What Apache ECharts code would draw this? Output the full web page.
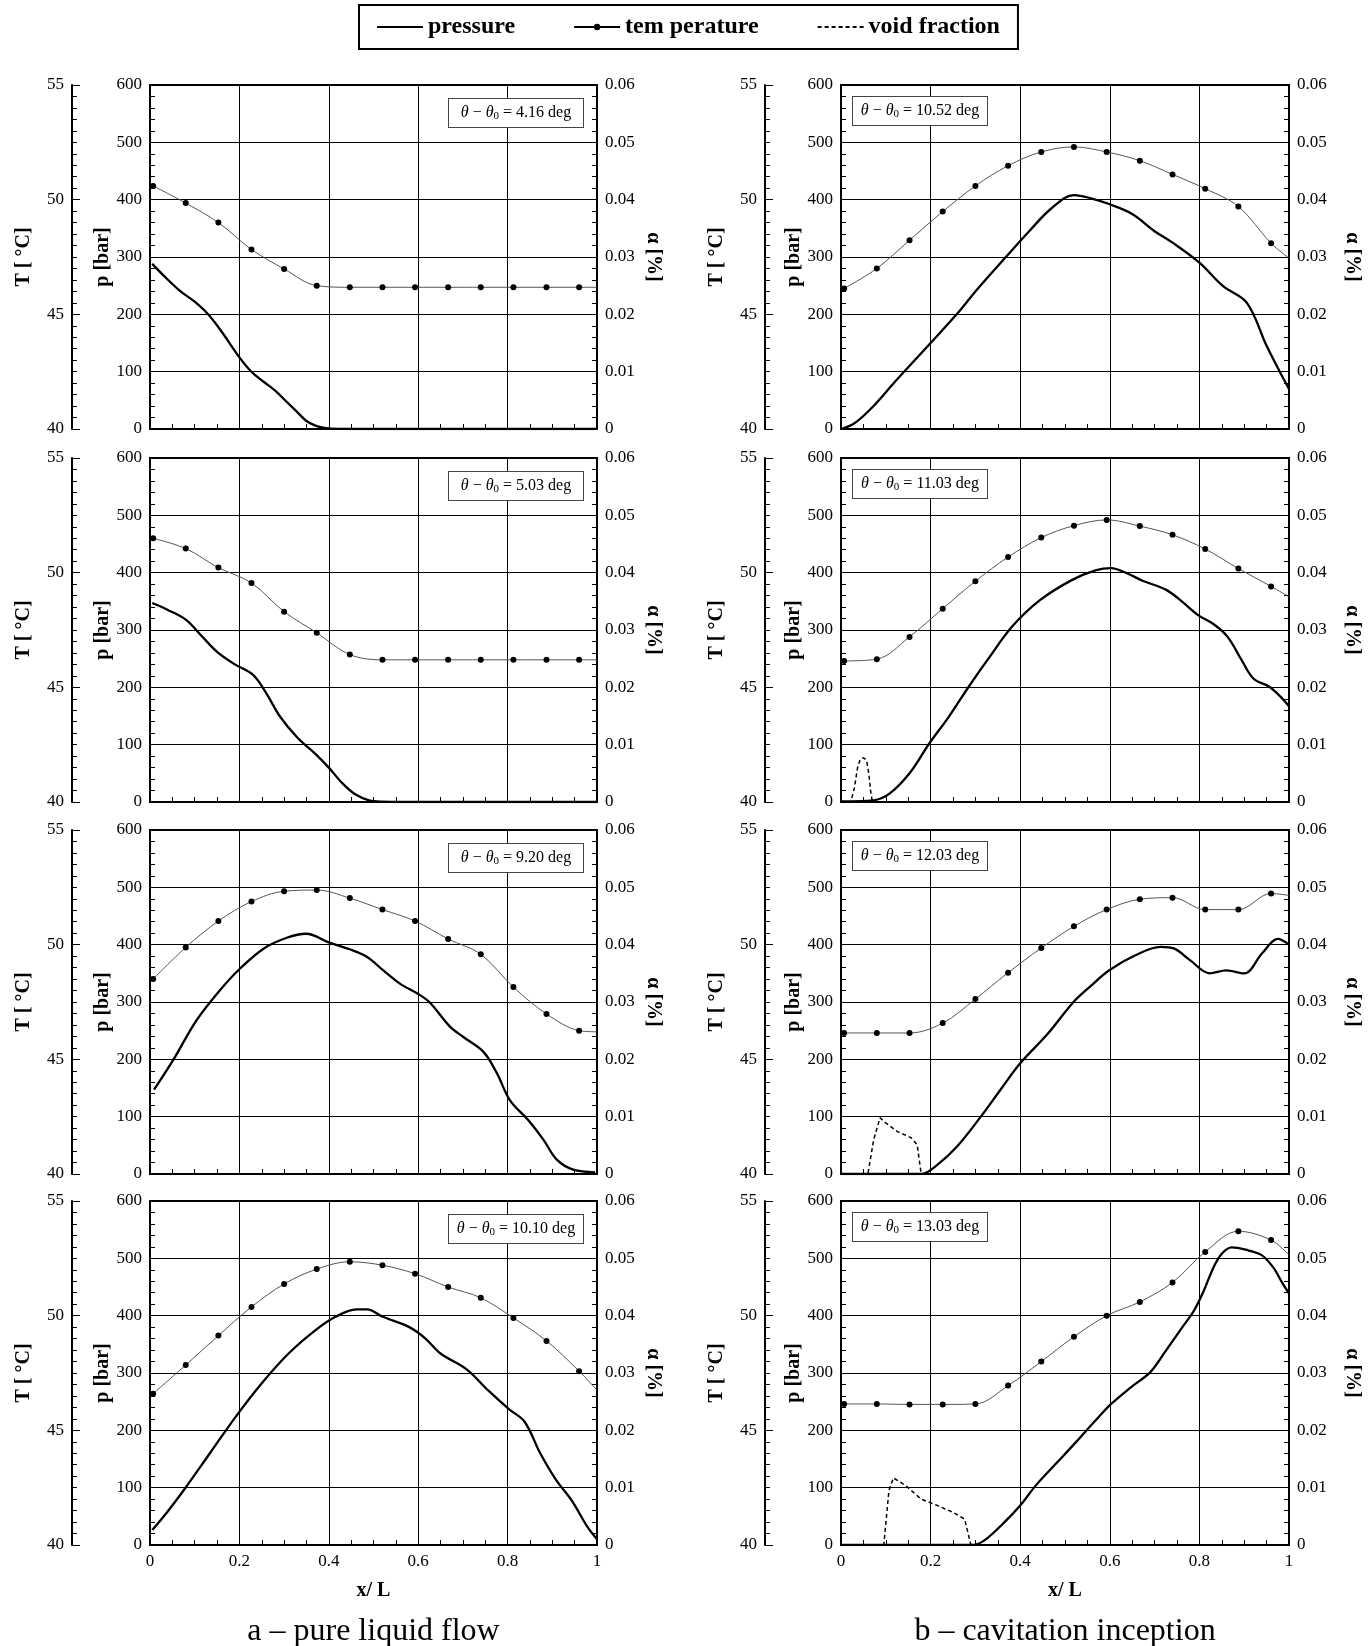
<!DOCTYPE html>
<html><head><meta charset="utf-8">
<script src="https://cdn.jsdelivr.net/npm/echarts@6/dist/echarts.min.js"></script>
<style>html,body{margin:0;padding:0;background:#fff}#c{width:1371px;height:1646px}</style>
</head><body><div id="c"></div>
<script>
// ---------------- DATA ----------------
const angles = ['4.16', '5.03', '9.20', '10.10', '10.52', '11.03', '12.03', '13.03'];
const captions = ['a \u2013 pure liquid flow', 'b \u2013 cavitation inception'];
// x/L positions of temperature markers
const tempX = [0.007, 0.080, 0.153, 0.227, 0.300, 0.373, 0.447, 0.520, 0.593, 0.667, 0.740, 0.813, 0.887, 0.960];
// temperature [°C] at tempX, last value at x/L = 1
const tempA1 = [50.6, 49.85, 49.0, 47.83, 46.98, 46.25, 46.18, 46.18, 46.18, 46.18, 46.18, 46.18, 46.18, 46.18, 46.18];
const tempA2 = [51.5, 51.05, 50.22, 49.55, 48.3, 47.38, 46.43, 46.2, 46.2, 46.2, 46.2, 46.2, 46.2, 46.2, 46.2];
const tempA3 = [48.5, 49.88, 51.03, 51.88, 52.33, 52.38, 52.03, 51.53, 51.03, 50.25, 49.58, 48.15, 46.98, 46.25, 46.2];
const tempA4 = [46.6, 47.85, 49.13, 50.38, 51.38, 52.03, 52.35, 52.2, 51.83, 51.25, 50.78, 49.9, 48.9, 47.58, 46.75];
const tempB1 = [46.13, 47.0, 48.23, 49.48, 50.6, 51.48, 52.08, 52.3, 52.08, 51.7, 51.1, 50.48, 49.7, 48.1, 47.45];
const tempB2 = [46.15, 46.23, 47.2, 48.43, 49.63, 50.68, 51.53, 52.05, 52.3, 52.03, 51.65, 51.03, 50.18, 49.4, 48.95];
const tempB3 = [46.15, 46.15, 46.15, 46.58, 47.63, 48.78, 49.85, 50.8, 51.53, 51.98, 52.05, 51.53, 51.53, 52.23, 52.15];
const tempB4 = [46.15, 46.15, 46.13, 46.13, 46.15, 46.95, 48.0, 49.08, 50.0, 50.6, 51.45, 52.78, 53.68, 53.3, 52.65];
// pressure [bar] as [x/L, p]
const presA1 = [[0.005,288],[0.03,268],[0.067,241],[0.1,222],[0.13,200],[0.16,170],[0.2,125],[0.228,99],[0.255,82],[0.28,67],[0.305,48],[0.33,29],[0.35,14],[0.37,6],[0.39,2],[0.42,0.3],[0.5,0],[1,0]];
const presA2 = [[0.005,347],[0.04,335],[0.08,318],[0.115,290],[0.15,262],[0.19,240],[0.23,222],[0.26,190],[0.29,150],[0.33,112],[0.37,84],[0.4,60],[0.43,33],[0.46,13],[0.49,3],[0.52,0.5],[0.56,0],[1,0]];
const presA3 = [[0.009,147],[0.052,199],[0.104,268],[0.157,321],[0.201,358],[0.254,393],[0.306,412],[0.349,419],[0.403,403],[0.447,392],[0.485,379],[0.522,355],[0.559,332],[0.6,314],[0.626,299],[0.671,257],[0.701,239],[0.746,213],[0.776,176],[0.805,129],[0.846,94],[0.88,60],[0.91,25],[0.947,7.5],[0.996,3]];
const presA4 = [[0.005,26],[0.04,59],[0.075,95],[0.134,160],[0.192,224],[0.251,283],[0.31,334],[0.369,374],[0.415,398],[0.462,411],[0.486,411],[0.521,398],[0.58,380],[0.615,361],[0.65,334],[0.709,306],[0.756,270],[0.803,237],[0.838,215],[0.873,160],[0.908,114],[0.944,77],[0.979,31],[1,10]];
const presB1 = [[0,0],[0.03,10],[0.07,38],[0.12,82],[0.2,150],[0.267,208],[0.3,240],[0.368,300],[0.42,345],[0.47,385],[0.52,408],[0.56,402],[0.6,392],[0.65,375],[0.7,345],[0.74,325],[0.8,290],[0.853,249],[0.906,220],[0.95,145],[0.98,99],[1,70]];
const presB2 = [[0,1],[0.073,3],[0.109,15],[0.153,50],[0.197,102],[0.241,149],[0.285,201],[0.329,250],[0.382,306],[0.444,352],[0.515,387],[0.568,404],[0.603,408],[0.638,399],[0.673,386],[0.726,370],[0.762,349],[0.797,326],[0.832,310],[0.863,288],[0.894,248],[0.921,215],[0.956,201],[0.982,183],[1,167]];
const presB3 = [[0,0],[0.179,0],[0.215,16],[0.259,48],[0.312,100],[0.356,147],[0.4,193],[0.462,245],[0.519,300],[0.559,329],[0.598,355],[0.656,381],[0.713,396],[0.744,393],[0.779,373],[0.823,350],[0.86,355],[0.9,350],[0.94,385],[0.975,410],[1,400]];
const presB4 = [[0,0],[0.294,0],[0.32,8],[0.365,40],[0.4,69],[0.435,104],[0.48,142],[0.524,179],[0.568,217],[0.603,246],[0.647,275],[0.691,302],[0.726,340],[0.762,380],[0.788,409],[0.81,444],[0.832,485],[0.85,508],[0.872,519],[0.903,515],[0.938,506],[0.964,485],[0.986,456],[1,439]];
// void fraction as [x/L, alpha]
const voidZero = [[0,0],[1,0]];
const voidB2 = [[0,0],[0.022,0],[0.03,0.0025],[0.037,0.006],[0.043,0.0075],[0.05,0.0077],[0.057,0.0073],[0.062,0.005],[0.066,0.002],[0.07,0],[1,0]];
const voidB3 = [[0,0],[0.06,0],[0.073,0.006],[0.087,0.0098],[0.1,0.0089],[0.126,0.0074],[0.157,0.0063],[0.17,0.0051],[0.179,0],[1,0]];
const voidB4 = [[0,0],[0.0955,0],[0.107,0.0095],[0.117,0.0117],[0.144,0.0104],[0.179,0.008],[0.215,0.0069],[0.25,0.0057],[0.276,0.0045],[0.29,0],[1,0]];

const panelTemp = [tempA1, tempA2, tempA3, tempA4, tempB1, tempB2, tempB3, tempB4];
const panelPres = [presA1, presA2, presA3, presA4, presB1, presB2, presB3, presB4];
const panelVoid = [voidZero, voidZero, voidZero, voidZero, voidZero, voidB2, voidB3, voidB4];

// ---------------- LAYOUT / STYLE ----------------
const FONT = "'Liberation Serif','Times New Roman',Times,serif";
const colLeft = [150, 841], colWidth = [447, 448], tOffset = [78, 76];
const rowTop = [85, 458, 830, 1201], rowH = 344;
const alphaGap = [46, 53];
const boxCX = [516, 920], boxDY = [14, 12];

const grids = [], xAxes = [], yAxes = [], series = [], graphics = [];
const lbl = { fontSize: 17, fontFamily: FONT, color: '#000', margin: 8 };
const nameStyle = { fontSize: 20, fontWeight: 'bold', fontFamily: FONT, color: '#000' };
const axLine = { show: true, onZero: false, lineStyle: { color: '#000', width: 2 } };
const tick = { show: true, inside: true, length: 8, lineStyle: { color: '#000', width: 1 } };

for (let k = 0; k < 8; k++) {
  const col = k < 4 ? 0 : 1, row = k % 4;
  grids.push({ left: colLeft[col], top: rowTop[row], width: colWidth[col], height: rowH,
    show: true, borderColor: '#000', borderWidth: 2, backgroundColor: 'transparent', containLabel: false, outerBoundsMode: 'none' });
  xAxes.push({ gridIndex: k, type: 'value', min: 0, max: 1, interval: 0.2,
    axisLine: axLine, axisTick: tick,
    minorTick: { show: true, splitNumber: 4, length: 5, lineStyle: { color: '#000', width: 1 } },
    splitLine: { show: true, lineStyle: { color: '#000', width: 1 } },
    axisLabel: Object.assign({ show: row === 3, formatter: v => String(+v.toFixed(1)) }, lbl),
    name: row === 3 ? 'x/ L' : '', nameLocation: 'middle', nameGap: 36, nameTextStyle: nameStyle });
  // pressure axis
  yAxes.push({ gridIndex: k, type: 'value', position: 'left', min: 0, max: 600, interval: 100,
    axisLine: axLine, axisTick: tick,
    minorTick: { show: true, splitNumber: 5, length: 5, lineStyle: { color: '#000', width: 1 } },
    splitLine: { show: true, lineStyle: { color: '#000', width: 1 } },
    axisLabel: lbl, name: 'p [bar]', nameLocation: 'middle', nameRotate: 90, nameGap: 37, nameTextStyle: nameStyle });
  // void fraction axis
  yAxes.push({ gridIndex: k, type: 'value', position: 'right', min: 0, max: 0.06, interval: 0.01,
    axisLine: axLine, axisTick: tick,
    minorTick: { show: true, splitNumber: 5, length: 5, lineStyle: { color: '#000', width: 1 } },
    splitLine: { show: false },
    axisLabel: Object.assign({ formatter: v => v === 0 ? '0' : v.toFixed(2) }, lbl),
    name: '\u03b1 [%]', nameLocation: 'middle', nameRotate: -90, nameGap: alphaGap[col], nameTextStyle: nameStyle });
  // temperature axis
  yAxes.push({ gridIndex: k, type: 'value', position: 'left', offset: tOffset[col], min: 40, max: 55, interval: 5,
    axisLine: axLine, axisTick: tick,
    minorTick: { show: true, splitNumber: 10, length: 5, lineStyle: { color: '#000', width: 1 } },
    splitLine: { show: false },
    axisLabel: lbl, name: 'T [ \u00b0C]', nameLocation: 'middle', nameRotate: 90, nameGap: 38, nameTextStyle: nameStyle });

  const t = panelTemp[k];
  const tData = tempX.map((x, i) => [x, t[i]]);
  tData.push({ value: [1, t[t.length - 1]], symbol: 'none' });

  series.push({ name: 'void fraction', type: 'line', xAxisIndex: k, yAxisIndex: 3 * k + 1, data: panelVoid[k],
    symbol: 'none', smooth: false, lineStyle: { color: '#000', width: 1.5, type: [4, 3] }, z: 2 });
  series.push({ name: 'pressure', type: 'line', xAxisIndex: k, yAxisIndex: 3 * k, data: panelPres[k],
    symbol: 'none', smooth: 0.35, lineStyle: { color: '#000', width: 2.3 }, z: 3 });
  series.push({ name: 'tem perature', type: 'line', xAxisIndex: k, yAxisIndex: 3 * k + 2, data: tData,
    symbol: 'circle', symbolSize: 6, showAllSymbol: true, smooth: 0.35,
    itemStyle: { color: '#000' }, lineStyle: { color: '#555', width: 1 }, z: 4 });

  graphics.push({ type: 'text', x: boxCX[col], y: rowTop[row] + boxDY[col], z: 10,
    style: { text: '{i|\u03b8} \u2212 {i|\u03b8}{s|0} = ' + angles[k] + ' deg',
      fontSize: 16, fontFamily: FONT, fill: '#000', lineHeight: 18, width: 114,
      align: 'center', verticalAlign: 'top',
      backgroundColor: '#fff', borderColor: '#444', borderWidth: 1, padding: [5, 10],
      rich: { i: { fontStyle: 'italic', fontSize: 16, fontFamily: FONT, lineHeight: 18 },
              s: { fontSize: 11, fontFamily: FONT, lineHeight: 11, verticalAlign: 'bottom' } } } });
}
captions.forEach((c, i) => {
  graphics.push({ type: 'text', x: colLeft[i] + colWidth[i] / 2, y: 1632,
    style: { text: c, fontSize: 32, fontFamily: FONT, fill: '#000', align: 'center', verticalAlign: 'middle' } });
});

const chart = echarts.init(document.getElementById('c'), null, { renderer: 'canvas' });
chart.setOption({
  animation: false,
  backgroundColor: '#fff',
  legend: { left: 359, top: 5, orient: 'horizontal', itemWidth: 46, itemHeight: 8, itemGap: 58,
    padding: [10, 18, 10, 17], borderColor: '#000', borderWidth: 2,
    textStyle: { fontSize: 24, fontWeight: 'bold', fontFamily: FONT, color: '#000' },
    data: [ { name: 'pressure', itemStyle: { opacity: 0 } },
            { name: 'tem perature', lineStyle: { color: '#000' } },
            { name: 'void fraction', itemStyle: { opacity: 0 } } ] },
  grid: grids, xAxis: xAxes, yAxis: yAxes, series: series, graphic: graphics
});
</script></body></html>
